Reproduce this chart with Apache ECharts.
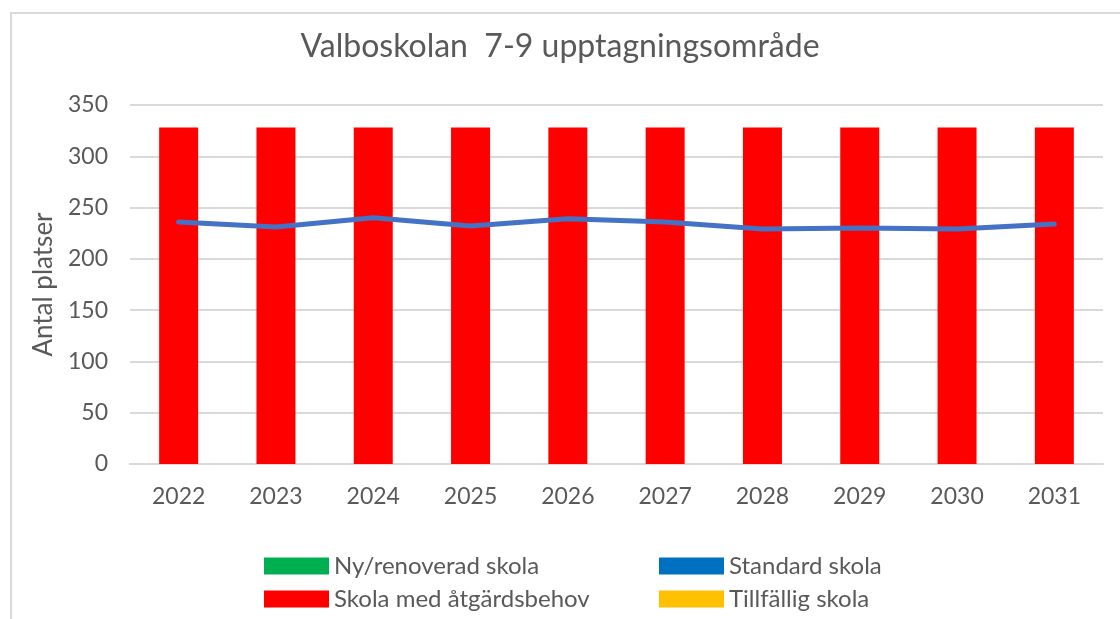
<!DOCTYPE html>
<html>
<head>
<meta charset="utf-8">
<title>Valboskolan 7-9</title>
<script src="https://cdn.jsdelivr.net/npm/echarts@6/dist/echarts.min.js"></script>
<style>
  html, body { margin: 0; padding: 0; background: #fff; }
  #frame {
    position: absolute; left: 10px; top: 12px; width: 1120px; height: 620px;
    border: 2px solid #d9d9d9; box-sizing: border-box;
  }
  #chart { position: absolute; left: 0; top: 0; width: 1120px; height: 619px; }
</style>
</head>
<body>
<div id="frame"></div>
<div id="chart"></div>
<script>
const years = ["2022", "2023", "2024", "2025", "2026", "2027", "2028", "2029", "2030", "2031"];
const nyRenoverad = [];
const standard = [];
const atgardsbehov = [328, 328, 328, 328, 328, 328, 328, 328, 328, 328];
const tillfallig = [];
const elever = [236, 231, 240, 232, 239, 236, 229, 230, 229, 234];
const yTicks = [0, 350, 50];

const font = "Lato, 'Open Sans', sans-serif";
const grey = "#595959";

function legendAt(left, names) {
  return {
    orient: "vertical",
    left: left,
    top: 549,
    height: 70,
    itemWidth: 65,
    itemHeight: 17,
    itemGap: 9,
    icon: "rect",
    textStyle: { color: grey, fontSize: 24, fontFamily: font },
    data: names,
  };
}

let myChart = echarts.init(document.getElementById("chart"));
let option = {
  animation: false,
  title: {
    text: "Valboskolan  7-9 upptagningsområde",
    left: "center",
    top: 26,
    textStyle: { color: grey, fontSize: 32, fontWeight: "normal", fontFamily: font },
  },
  grid: { left: 130, right: 17, top: 105, bottom: 155 },
  legend: [
    legendAt(259, ["Ny/renoverad skola", "Skola med åtgärdsbehov"]),
    legendAt(654, ["Standard skola", "Tillfällig skola"]),
  ],
  xAxis: {
    type: "category",
    data: years,
    axisLine: { lineStyle: { color: "#d9d9d9", width: 2 } },
    axisTick: { show: false },
    axisLabel: { color: grey, fontSize: 23, fontFamily: font, margin: 21 },
  },
  yAxis: {
    type: "value",
    min: yTicks[0],
    max: yTicks[1],
    interval: yTicks[2],
    name: "Antal platser",
    nameLocation: "middle",
    nameGap: 73,
    nameTextStyle: { color: grey, fontSize: 26, fontFamily: font },
    axisLine: { show: false },
    axisTick: { show: false },
    axisLabel: { color: grey, fontSize: 23, fontFamily: font, margin: 22 },
    splitLine: { lineStyle: { color: "#d9d9d9", width: 2 } },
  },
  series: [
    { name: "Ny/renoverad skola", type: "bar", stack: "skola", barWidth: 39, itemStyle: { color: "#00b050" }, data: nyRenoverad },
    { name: "Standard skola", type: "bar", stack: "skola", barWidth: 39, itemStyle: { color: "#0070c0" }, data: standard },
    { name: "Skola med åtgärdsbehov", type: "bar", stack: "skola", barWidth: 39, itemStyle: { color: "#ff0000" }, data: atgardsbehov },
    { name: "Tillfällig skola", type: "bar", stack: "skola", barWidth: 39, itemStyle: { color: "#ffc000" }, data: tillfallig },
    {
      name: "Elever",
      type: "line",
      symbol: "none",
      lineStyle: { color: "#4472c4", width: 5, cap: "round" },
      itemStyle: { color: "#4472c4" },
      z: 5,
      data: elever,
    },
  ],
};
myChart.setOption(option);
</script>
</body>
</html>
